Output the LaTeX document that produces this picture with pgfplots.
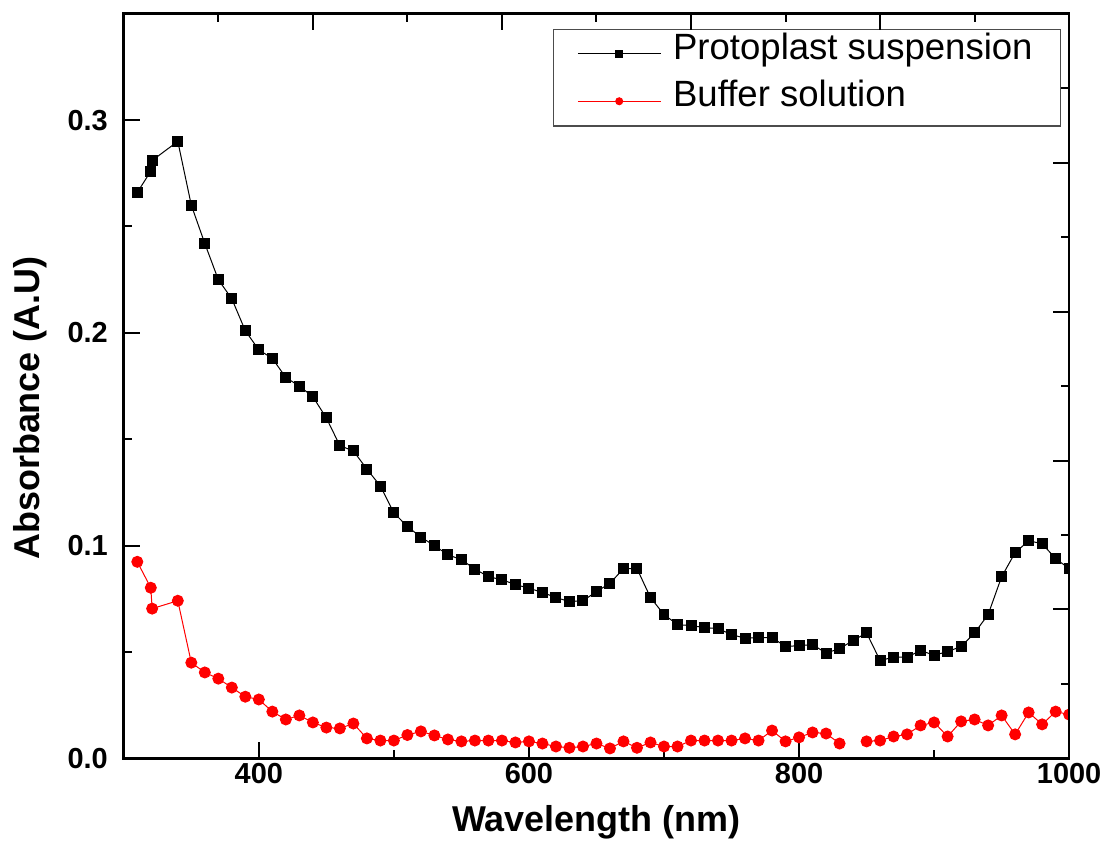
\documentclass[border=0pt]{standalone}
\usepackage{fontspec}
\setmainfont{Liberation Sans}
\usepackage{pgfplots}
\pgfplotsset{compat=1.18}
\usetikzlibrary{calc}

\begin{document}
\begin{tikzpicture}
\begin{axis}[
  scale only axis,
  width=473.5pt, height=373pt,
  xmin=300, xmax=1000,
  ymin=0, ymax=0.35,
  xtick={400,600,800,1000},
  xticklabels={400,600,800,1000},
  minor xtick={500,700,900},
  ytick={0,0.1,0.2,0.3},
  minor ytick={0.05,0.15,0.25},
  tick pos=left,
  tick align=inside,
  major tick length=8pt, minor tick length=4pt,
  every tick/.style={black, line width=1pt},
  axis line style={line width=1.3pt},
  /pgf/number format/assume math mode=true,
  ticklabel style={font=\bfseries\fontsize{14.5}{17}\selectfont},
  yticklabel style={xshift=-4.5pt},
  xticklabel style={yshift=1pt},
  yticklabel style={/pgf/number format/.cd, fixed, fixed zerofill, precision=1},
  xlabel={Wavelength (nm)},
  ylabel={Absorbance (A.U)},
  label style={font=\bfseries\fontsize{18}{20}\selectfont},
  xlabel style={at={(axis description cs:0.5,0)}, anchor=center, yshift=-32pt},
  ylabel style={at={(axis description cs:0,0.5)}, anchor=center, xshift=-11pt, yshift=47pt},
  clip marker paths=true,
  unbounded coords=jump,
  legend cell align=left,
  legend image code/.code={
    \draw[mark repeat=2, mark phase=2, #1, mark size=1.75pt]
      plot coordinates {(0pt,0pt) (20.75pt,0pt) (41.5pt,0pt)};
  },
  legend style={
    at={(axis description cs:1,1)}, anchor=north east,
    xshift=-4pt, yshift=-7.5pt,
    draw=black!70, line width=0.6pt,
    font=\fontsize{18.3}{20}\selectfont,
    inner xsep=12pt, inner ysep=5.5pt,
    row sep=10pt,
    /tikz/every odd column/.append style={column sep=4pt},
    nodes={inner sep=2pt, text height=0.75em, text depth=0.22em},
  },
]
\addplot[black, line width=0.5pt, mark=square*, mark size=2.5pt, mark options={solid}] coordinates {
  (310,0.266) (320,0.276) (321,0.281) (340,0.290) (350,0.260) (360,0.242)
  (370,0.225) (380,0.216) (390,0.201) (400,0.192) (410,0.188) (420,0.179)
  (430,0.175) (440,0.170) (450,0.160) (460,0.147) (470,0.1445) (480,0.136)
  (490,0.128) (500,0.1154) (510,0.109) (520,0.104) (530,0.100) (540,0.0957)
  (550,0.0934) (560,0.089) (570,0.0854) (580,0.084) (590,0.0817) (600,0.080)
  (610,0.078) (620,0.0756) (630,0.0737) (640,0.0741) (650,0.0784) (660,0.0823)
  (670,0.0892) (680,0.0892) (690,0.0756) (700,0.0676) (710,0.0629) (720,0.0624)
  (730,0.0615) (740,0.061) (750,0.0582) (760,0.0565) (770,0.0568) (780,0.0568)
  (790,0.0526) (800,0.053) (810,0.0535) (820,0.0495) (830,0.0516) (840,0.0554)
  (850,0.059) (860,0.046) (870,0.0476) (880,0.0476) (890,0.0507) (900,0.0485)
  (910,0.0502) (920,0.0526) (930,0.059) (940,0.0676) (950,0.0854) (960,0.0967)
  (970,0.1023) (980,0.1009) (990,0.0939) (1000,0.0892)
};
\addlegendentry{Protoplast suspension}
\addplot[red, line width=0.5pt, mark=*, mark size=2.75pt, mark options={solid}] coordinates {
  (310,0.0924) (320,0.0802) (321,0.0704) (340,0.0741) (350,0.045) (360,0.0404)
  (370,0.0375) (380,0.0333) (390,0.029) (400,0.0277) (410,0.022) (420,0.0183)
  (430,0.0202) (440,0.0169) (450,0.0145) (460,0.0141) (470,0.0164) (480,0.0094)
  (490,0.0084) (500,0.0084) (510,0.011) (520,0.0127) (530,0.0108) (540,0.0089)
  (550,0.008) (560,0.0084) (570,0.0084) (580,0.0084) (590,0.0075) (600,0.008)
  (610,0.007) (620,0.0056) (630,0.005) (640,0.0056) (650,0.007) (660,0.0047)
  (670,0.008) (680,0.005) (690,0.0075) (700,0.0056) (710,0.0056) (720,0.0084)
  (730,0.0084) (740,0.0084) (750,0.0084) (760,0.0094) (770,0.0084) (780,0.0131)
  (790,0.008) (800,0.0099) (810,0.0122) (820,0.0117) (830,0.007) (840,nan)
  (850,0.008) (860,0.0084) (870,0.0103) (880,0.0113) (890,0.0155) (900,0.0169)
  (910,0.0103) (920,0.0174) (930,0.0183) (940,0.0155) (950,0.0202) (960,0.0113)
  (970,0.0216) (980,0.016) (990,0.022) (1000,0.0206)
};
\addlegendentry{Buffer solution}
\end{axis}
% opposite axes: ten divisions each, as drawn by the original software
\begin{axis}[
  scale only axis,
  width=473.5pt, height=373pt,
  xmin=0, xmax=10, ymin=0, ymax=10,
  axis x line*=top, axis y line*=right,
  axis line style={-, line width=1.3pt},
  xtick={2,4,6,8}, minor xtick={1,3,5,7,9},
  ytick={2,4,6,8}, minor ytick={1,3,5,7,9},
  xticklabels={}, yticklabels={},
  tick align=inside,
  major tick length=8pt, minor tick length=4pt,
  every tick/.style={black, line width=1pt},
]
\end{axis}
\path ($(current axis.south west)+(-62pt,-54.5pt)$) rectangle ($(current axis.north east)+(18.5pt,4pt)$);
\end{tikzpicture}
\end{document}
